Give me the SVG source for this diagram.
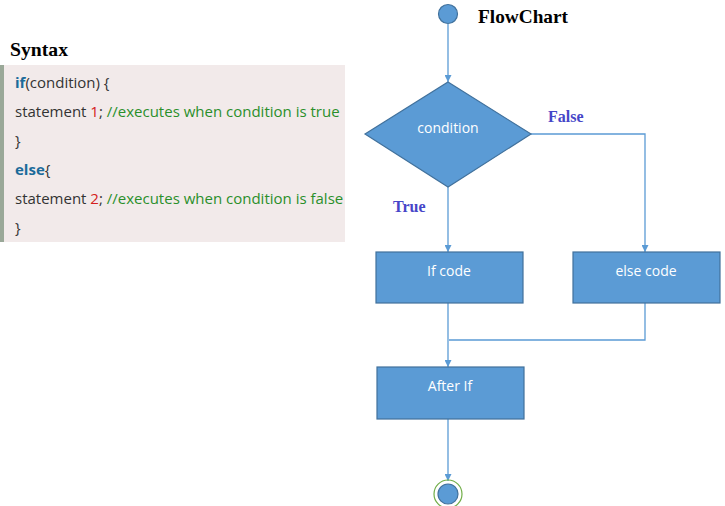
<svg xmlns="http://www.w3.org/2000/svg" width="725" height="506" viewBox="0 0 725 506">
<defs>
<style>
.shape{fill:#5b9bd5;stroke:#41719c;stroke-width:1.2}
.lbl{font-family:"Open Sans","Noto Sans",sans-serif;font-size:14px;fill:#fff;text-anchor:middle}
.conn{fill:none;stroke:#5b9bd5;stroke-width:1.3}
.head{font-family:"Liberation Serif",serif;font-weight:bold;font-size:19px;fill:#000}
.tf{font-family:"Liberation Serif",serif;font-weight:bold;font-size:16px;fill:#4646c8}
.code{font-family:"Open Sans","Noto Sans",sans-serif;font-size:15px;fill:#333}
.kw{fill:#1b6b9a;font-weight:bold}
.num{fill:#d42020}
.cm{fill:#2a8f2a}
</style>
<marker id="arr" viewBox="0 0 10 10" refX="10" refY="5" markerWidth="7" markerHeight="7" markerUnits="userSpaceOnUse" orient="auto">
<path d="M0,0 L10,5 L0,10 z" fill="#5b9bd5"/>
</marker>
</defs>
<rect width="725" height="506" fill="#fff"/>
<g id="syntax">
<text class="head" x="10" y="56" textLength="58" lengthAdjust="spacingAndGlyphs">Syntax</text>
<rect x="0" y="65" width="345" height="177" fill="#f2eaea"/>
<rect x="0" y="65" width="4" height="177" fill="#9aa898"/>
<text class="code" x="15" y="88"><tspan class="kw">if</tspan>(condition) {</text>
<text class="code" x="15" y="117">statement <tspan class="num">1</tspan>; <tspan class="cm">//executes when condition is true</tspan></text>
<text class="code" x="15" y="146">}</text>
<text class="code" x="15" y="175"><tspan class="kw">else</tspan>{</text>
<text class="code" x="15" y="204">statement <tspan class="num">2</tspan>; <tspan class="cm">//executes when condition is false</tspan></text>
<text class="code" x="15" y="233">}</text>
</g>
<text class="head" x="478" y="23" textLength="90" lengthAdjust="spacingAndGlyphs">FlowChart</text>
<g id="connectors">
<line class="conn" x1="448" y1="24" x2="448" y2="82" marker-end="url(#arr)"/>
<line class="conn" x1="448" y1="187" x2="448" y2="252" marker-end="url(#arr)"/>
<polyline class="conn" points="531,134 645,134 645,252" marker-end="url(#arr)"/>
<line class="conn" x1="448" y1="303" x2="448" y2="367" marker-end="url(#arr)"/>
<polyline class="conn" points="645,303 645,340 449,340"/>
<line class="conn" x1="448" y1="419" x2="448" y2="481" marker-end="url(#arr)"/>
<text class="tf" x="548" y="122">False</text>
<text class="tf" x="393" y="212">True</text>
</g>
<g id="start">
<circle class="shape" cx="448" cy="14" r="9.5"/>
</g>
<g id="condition">
<polygon class="shape" points="448,82 531,134 448,187 365,134"/>
<text class="lbl" x="448" y="133">condition</text>
</g>
<g id="ifcode">
<rect class="shape" x="376" y="252" width="147" height="51"/>
<text class="lbl" x="449" y="276">If code</text>
</g>
<g id="elsecode">
<rect class="shape" x="573" y="252" width="147" height="51"/>
<text class="lbl" x="646" y="276">else code</text>
</g>
<g id="afterif">
<rect class="shape" x="377" y="367" width="147" height="52"/>
<text class="lbl" x="450" y="391">After If</text>
</g>
<g id="end">
<circle cx="448" cy="494" r="14" fill="none" stroke="#70ad47" stroke-width="1.2"/>
<circle class="shape" cx="448" cy="494" r="10"/>
</g>
</svg>
